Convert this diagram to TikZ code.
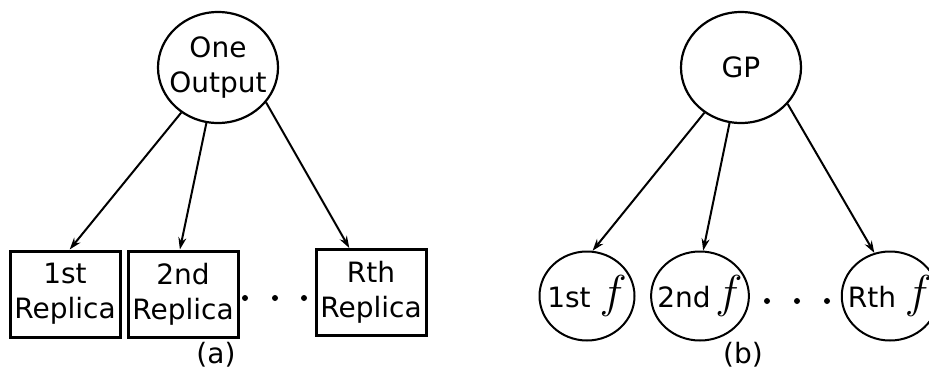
\documentclass[tikz,border=0pt]{standalone}
\usepackage{graphicx}
\usepackage{fontspec}
\setmainfont{DejaVu Sans}
\usetikzlibrary{shapes.geometric,arrows.meta}
\newcommand{\bigf}{\resizebox{!}{32pt}{$f$}}
\tikzset{
  bignode/.style={ellipse,draw,line width=2.2pt,minimum width=120pt,minimum height=111pt,inner xsep=-9pt,inner ysep=0pt,align=center,font=\fontsize{28}{35}\selectfont},
  smallnode/.style={ellipse,draw,line width=2pt,minimum width=95pt,minimum height=89pt,inner xsep=-8pt,inner ysep=0pt,align=center,font=\fontsize{28}{35}\selectfont},
  repbox/.style={rectangle,draw,line width=3pt,minimum width=110pt,minimum height=86pt,inner sep=0pt,align=center,font=\fontsize{28}{35}\selectfont},
  dotnode/.style={circle,fill,inner sep=0pt,minimum size=6pt},
  conn/.style={line width=2pt,-{Stealth[length=12pt,width=8pt]}},
  figcap/.style={font=\fontsize{28}{35}\selectfont,inner sep=0pt}
}
\begin{document}
\begin{tikzpicture}[x=1pt,y=-1pt]
\useasboundingbox (0,0) rectangle (929,373);
% (a)
\node[bignode] (o) at (218,67.5) {One\\Output};
\node[repbox] (b1) at (65,294) {1st\\Replica};
\node[repbox] (b2) at (183,294) {2nd\\Replica};
\node[repbox] (b3) at (371,292.5) {Rth\\Replica};
\node[dotnode] (d1) at (245,298) {};
\node[dotnode] (d2) at (275,298) {};
\node[dotnode] (d3) at (304,298) {};
\node[figcap] (ca) at (216,355) {(a)};
\draw[conn] (o) -- (b1.84);
\draw[conn] (o) -- (b2.94);
\draw[conn] (o.324) -- (b3.116);
% (b)
\node[bignode] (g) at (741,67.5) {GP};
\node[smallnode] (c1) at (587,296) {1st \bigf};
\node[smallnode] (c2) at (700,296) {2nd\,\bigf};
\node[smallnode] (c3) at (890,296) {Rth \bigf};
\node[dotnode] (e1) at (767,301) {};
\node[dotnode] (e2) at (797,301) {};
\node[dotnode] (e3) at (827,301) {};
\node[figcap] (cb) at (743,355) {(b)};
\draw[conn] (g) -- (c1.83);
\draw[conn] (g) -- (c2.86);
\draw[conn] (g.322) -- (c3.110);
\end{tikzpicture}
\end{document}
